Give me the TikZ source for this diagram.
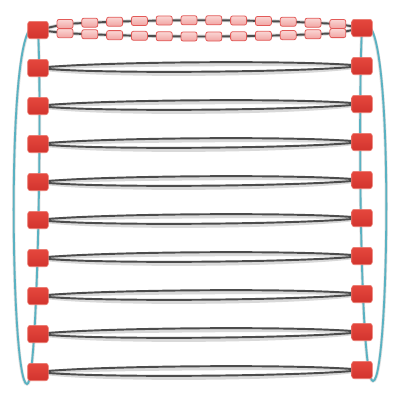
\documentclass[tikz,border=0pt]{standalone}
\usetikzlibrary{calc}
\definecolor{loopblue}{HTML}{5AB2C2}
\definecolor{edgegray}{HTML}{4C4C4C}
\definecolor{shadowgray}{HTML}{D0D0D0}
\definecolor{redtop}{HTML}{E5473D}
\definecolor{redbot}{HTML}{D2342E}
\definecolor{redrim}{HTML}{EA7A70}
\definecolor{pinktop}{HTML}{FAD6D4}
\definecolor{pinkbot}{HTML}{F1A4A2}
\definecolor{pinkrim}{HTML}{E25A58}
\tikzset{
  bignode/.style={minimum width=15.5pt, minimum height=13pt, inner sep=0pt,
    rounded corners=2pt, top color=redtop, bottom color=redbot, draw=redrim, line width=0.5pt},
  smallnode/.style={minimum width=12pt, minimum height=6.8pt, inner sep=0pt,
    rounded corners=1.6pt, top color=pinktop, bottom color=pinkbot, draw=pinkrim, line width=0.6pt},
  edgeline/.style={draw=edgegray, line width=1.45pt},
  edgeshadow/.style={draw=shadowgray, line width=2.8pt, opacity=0.8},
  loopline/.style={draw=loopblue, line width=1.4pt},
  loopshadow/.style={draw=shadowgray, line width=2.4pt, opacity=0.7},
}
\begin{document}
\begin{tikzpicture}[x=0.75pt, y=-0.75pt]
\useasboundingbox (0,0) rectangle (400,404);
\fill[white] (0,0) rectangle (400,404);
% node coordinates
\foreach \i in {0,...,9}{
  \pgfmathsetmacro{\yl}{30+38*\i}
  \pgfmathsetmacro{\yr}{28+38*\i}
  \coordinate (PL\i) at (38,\yl);
  \coordinate (PR\i) at (362,\yr);
}
\coordinate (LB) at (27,384);
\coordinate (RB) at (373,381);
% blue loops (shadow + line)
\draw[loopshadow, yshift=-2pt] (PL0) .. controls (5,-10) and (10,384) .. (LB) .. controls (38,384) and (42,100) .. (PL0);
\draw[loopshadow, yshift=-2pt] (PR0) .. controls (395,-12) and (390,381) .. (RB) .. controls (360,381) and (358,100) .. (PR0);
\draw[loopline] (PL0) .. controls (5,-10) and (10,384) .. (LB) .. controls (38,384) and (42,100) .. (PL0);
\draw[loopline] (PR0) .. controls (395,-12) and (390,381) .. (RB) .. controls (360,381) and (358,100) .. (PR0);
% lens edges rows 1..9
\foreach \i in {1,...,9}{
  \pgfmathsetmacro{\yl}{30+38*\i}
  \pgfmathsetmacro{\yr}{28+38*\i}
  \pgfmathsetmacro{\ylu}{\yl-6.3}\pgfmathsetmacro{\yru}{\yr-6.3}
  \pgfmathsetmacro{\yld}{\yl+6.3}\pgfmathsetmacro{\yrd}{\yr+6.3}
  \draw[edgeshadow, yshift=-2.2pt] (PL\i) .. controls (90,\ylu) and (310,\yru) .. (PR\i);
  \draw[edgeshadow, yshift=-2.2pt] (PL\i) .. controls (90,\yld) and (310,\yrd) .. (PR\i);
  \draw[edgeline] (PL\i) .. controls (90,\ylu) and (310,\yru) .. (PR\i);
  \draw[edgeline] (PL\i) .. controls (90,\yld) and (310,\yrd) .. (PR\i);
}
% small node positions on top row
\foreach \k in {1,...,12}{
  \pgfmathsetmacro{\xx}{65+24.8*(\k-1)}
  \pgfmathsetmacro{\yu}{20.2+3.8*((\xx-201)/137)^2}
  \pgfmathsetmacro{\yd}{36.5-3.4*((\xx-201)/137)^2}
  \coordinate (PU\k) at (\xx,\yu);
  \coordinate (PD\k) at (\xx,\yd);
}
% top row chained edges
\foreach \s in {-2.2pt,0pt}{
  \ifdim\s=0pt \def\sty{edgeline}\else\def\sty{edgeshadow}\fi
  \draw[\sty, yshift=\s] (PL0) -- (PU1) -- (PU2) -- (PU3) -- (PU4) -- (PU5) -- (PU6) -- (PU7) -- (PU8) -- (PU9) -- (PU10) -- (PU11) -- (PU12) -- (PR0);
  \draw[\sty, yshift=\s] (PL0) -- (PD1) -- (PD2) -- (PD3) -- (PD4) -- (PD5) -- (PD6) -- (PD7) -- (PD8) -- (PD9) -- (PD10) -- (PD11) -- (PD12) -- (PR0);
}
% small nodes
\foreach \k in {1,...,12}{
  \node[smallnode] (U\k) at (PU\k) {};
  \node[smallnode] (D\k) at (PD\k) {};
}
% big nodes
\foreach \i in {0,...,9}{
  \node[bignode] (L\i) at (PL\i) {};
  \node[bignode] (R\i) at (PR\i) {};
}
\end{tikzpicture}
\end{document}
